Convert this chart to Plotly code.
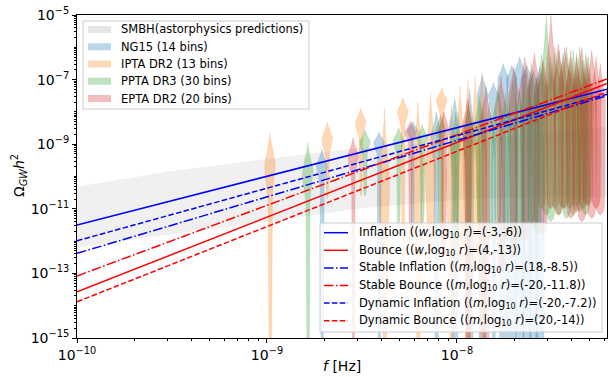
import numpy as np
import plotly.graph_objects as go

# ---------------- data ----------------
# SMBH astrophysical band (log10 Omega)
F_SMBH = [1e-10, 3e-10, 1e-9, 3e-9, 1e-8, 3e-8, 6.16e-8]
SMBH_UP = [-10.32, -9.85, -9.45, -9.12, -8.90, -8.65, -8.47]
SMBH_LO = [-12.20, -11.80, -11.40, -11.00, -10.72, -10.62, -10.65]

# PTA free-spectrum violins: frequency bins and log10 Omega extents
NG15_F = [1.945e-9 * k for k in range(1, 15)]
NG15_TOP = [-9.15, -8.62, -8.30, -8.00, -7.57, -7.30, -6.86, -7.10, -6.50, -6.55, -6.30, -6.55, -6.70, -6.60]
NG15_MODE = [-9.70, -8.95, -8.60, -8.80, -8.50, -8.80, -7.50, -7.50, -7.00, -7.00, -6.80, -7.00, -7.30, -7.30]
NG15_BOT = [-15.5, -15.5, -12.0, -15.5, -15.5, -15.5, -15.5, -15.5, -15.5, -15.5, -15.5, -15.5, -15.5, -15.5]
NG15_TAIL = [0.30, 0.30, 0.25, 0.40, 0.60, 0.60, 0.70, 0.35, 0.75, 0.80, 0.80, 0.80, 0.80, 0.80]

IPTA_F = [1.038e-9 * k for k in range(1, 14)]
IPTA_TOP = [-8.65, -8.31, -7.88, -7.90, -7.57, -7.69, -7.41, -7.26, -7.80, -7.20, -7.00, -6.90, -6.80]
IPTA_MODE = [-9.70, -8.85, -8.35, -10.50, -8.00, -10.00, -9.80, -7.65, -10.00, -9.50, -9.30, -9.60, -9.40]
IPTA_BOT = [-15.5, -10.7, -10.6, -15.5, -12.5, -15.5, -13.0, -12.5, -15.5, -13.0, -15.5, -13.0, -15.5]
IPTA_TAIL = [0.33, 0.25, 0.25, 0.40, 0.30, 0.40, 0.40, 0.30, 0.45, 0.50, 0.50, 0.50, 0.50]

PPTA_F = [1.64e-9 * k for k in range(1, 31)]
PPTA_TOP = [-8.96, -8.55, -8.50, -8.40, -8.10, -8.00, -7.80, -7.50, -7.70, -7.20,
            -7.40, -7.00, -7.30, -6.80, -6.50, -6.90, -6.20, -5.00, -6.30, -6.00,
            -6.10, -6.20, -6.00, -6.30, -6.10, -6.30, -6.00, -6.40, -6.20, -6.30]
PPTA_MODE = [-9.90, -8.95, -8.90, -8.80, -8.60, -9.00, -8.70, -8.50, -8.80, -8.30,
             -8.60, -8.20, -8.50, -8.00, -7.80, -8.20, -7.50, -7.20, -7.60, -7.20,
             -7.30, -7.50, -7.20, -7.60, -7.50, -7.70, -7.30, -7.80, -7.50, -7.70]
PPTA_BOT = [-15.5, -10.6, -11.5, -11.5, -11.8, -12.0, -12.0, -11.5, -12.0, -11.5,
            -12.0, -11.8, -12.0, -11.5, -11.5, -11.8, -11.0, -11.2, -11.4, -11.0,
            -11.2, -11.0, -11.3, -11.0, -11.2, -10.9, -11.1, -11.0, -11.2, -10.9]
PPTA_TAIL = [0.30, 0.30, 0.30, 0.35, 0.40, 0.50, 0.50, 0.55, 0.55, 0.60,
             0.60, 0.65, 0.65, 0.70, 0.70, 0.70, 0.75, 0.75, 0.75, 0.75,
             0.75, 0.75, 0.75, 0.75, 0.75, 0.75, 0.75, 0.75, 0.75, 0.75]

EPTA_F = [2.84e-9 * k for k in range(1, 21)]
EPTA_TOP = [-8.80, -8.30, -8.00, -7.60, -7.20, -6.90, -6.60, -6.30, -6.18, -6.40,
            -5.00, -5.90, -6.00, -6.10, -6.20, -6.00, -6.30, -6.10, -6.30, -6.50]
EPTA_MODE = [-9.40, -8.65, -8.60, -8.50, -8.30, -8.00, -7.60, -7.40, -7.20, -7.40,
             -7.00, -7.20, -7.00, -7.40, -7.50, -7.30, -7.60, -7.40, -7.60, -7.80]
EPTA_BOT = [-15.5, -12.0, -12.5, -15.5, -15.5, -13.0, -12.5, -12.0, -11.6, -11.8,
            -11.0, -11.2, -11.0, -11.3, -11.1, -11.4, -10.9, -11.3, -11.0, -11.2]
EPTA_TAIL = [0.25, 0.30, 0.40, 0.50, 0.60, 0.70, 0.70, 0.75, 0.75, 0.75,
             0.78, 0.78, 0.78, 0.78, 0.78, 0.78, 0.78, 0.78, 0.78, 0.78]

# model curves: end-point values (log10 Omega) at the frequencies below
F_LINE = [1e-10, 6.16e-8]
INFL = [-11.50, -7.30]
BOUNCE = [-13.57, -7.12]
ST_INFL = [-12.38, -7.50]
ST_BOUNCE = [-13.08, -6.98]
DYN_INFL = [-11.99, -7.45]
DYN_BOUNCE = [-13.88, -7.38]

FONT = "DejaVu Sans"
W, H = 609, 377
L, R, T, B = 77, 607, 15, 338   # plot-area pixel box


def px(x):
    return (x - L) / (R - L)


def py(y):
    return 1 - (y - T) / (B - T)


fig = go.Figure()

# SMBH band
fig.add_trace(go.Scatter(
    x=F_SMBH + F_SMBH[::-1],
    y=[10 ** v for v in SMBH_UP] + [10 ** v for v in SMBH_LO[::-1]],
    fill="toself", mode="lines", line=dict(width=0),
    fillcolor="rgba(128,128,128,0.12)",
    name="SMBH(astorphysics predictions)", showlegend=False, hoverinfo="skip"))


def violin(fc, top, mode, bot, tail, half=0.028, n=90):
    ys = np.linspace(bot, top, n)
    up = max(top - mode, 0.05)
    s = max(up / 2.2, 0.12)
    g = np.exp(-0.5 * ((ys - mode) / s) ** 2)
    cap = np.clip(1 - ((ys - mode) / up) ** 2, 0, 1)
    w = np.where(ys >= mode, g * np.sqrt(cap), tail + (1 - tail) * g)
    w = w * np.sqrt(np.clip((ys - bot) / 0.25, 0, 1))
    lx = np.log10(fc)
    xr = 10 ** (lx + half * w)
    xl = 10 ** (lx - half * w)
    x = np.concatenate([xr, xl[::-1]])
    y = 10 ** np.concatenate([ys, ys[::-1]])
    return x, y


datasets = [
    ("NG15 (14 bins)", (31, 119, 180), NG15_F, NG15_TOP, NG15_MODE, NG15_BOT, NG15_TAIL),
    ("IPTA DR2 (13 bins)", (255, 127, 14), IPTA_F, IPTA_TOP, IPTA_MODE, IPTA_BOT, IPTA_TAIL),
    ("PPTA DR3 (30 bins)", (44, 160, 44), PPTA_F, PPTA_TOP, PPTA_MODE, PPTA_BOT, PPTA_TAIL),
    ("EPTA DR2 (20 bins)", (214, 39, 40), EPTA_F, EPTA_TOP, EPTA_MODE, EPTA_BOT, EPTA_TAIL),
]
for name, (r, g_, b), fs, tops, modes, bots, tails in datasets:
    for i, fc in enumerate(fs):
        x, y = violin(fc, tops[i], modes[i], bots[i], tails[i])
        fig.add_trace(go.Scatter(
            x=x, y=y, fill="toself", mode="lines",
            line=dict(width=0.5, color=f"rgba({r},{g_},{b},0.3)"),
            fillcolor=f"rgba({r},{g_},{b},0.3)",
            name=name, showlegend=False, hoverinfo="skip"))

DASHDOT = "9.6px,2.4px,1.5px,2.4px"
DASHED = "5.5px,2.4px"
lines = [
    ("Inflation ((<i>w</i>,log<sub>10</sub> <i>r</i>)=(-3,-6))", INFL, "blue", "solid"),
    ("Bounce ((<i>w</i>,log<sub>10</sub> <i>r</i>)=(4,-13))", BOUNCE, "red", "solid"),
    ("Stable Inflation ((<i>m</i>,log<sub>10</sub> <i>r</i>)=(18,-8.5))", ST_INFL, "blue", DASHDOT),
    ("Stable Bounce ((<i>m</i>,log<sub>10</sub> <i>r</i>)=(-20,-11.8))", ST_BOUNCE, "red", DASHDOT),
    ("Dynamic Inflation ((<i>m</i>,log<sub>10</sub> <i>r</i>)=(-20,-7.2))", DYN_INFL, "blue", DASHED),
    ("Dynamic Bounce ((<i>m</i>,log<sub>10</sub> <i>r</i>)=(20,-14))", DYN_BOUNCE, "red", DASHED),
]
for name, vals, col, dash in lines:
    fig.add_trace(go.Scatter(
        x=F_LINE, y=[10 ** v for v in vals], mode="lines",
        line=dict(color=col, width=1.5, dash=dash),
        name=name, showlegend=False, hoverinfo="skip"))

# ---------------- legends (drawn as boxes, swatches and texts) ----------------
shapes, annos = [], []
LFONT = dict(family=FONT, size=11.5, color="black")

# upper-left legend: patches
shapes.append(dict(type="rect", xref="paper", yref="paper", layer="above",
                   x0=px(83), x1=px(309), y0=py(109), y1=py(21),
                   fillcolor="rgba(255,255,255,0.8)", line=dict(color="#cccccc", width=1)))
patch_items = [("SMBH(astorphysics predictions)", "rgba(128,128,128,0.2)")] + \
              [(d[0], f"rgba({d[1][0]},{d[1][1]},{d[1][2]},0.3)") for d in datasets]
for j, (name, col) in enumerate(patch_items):
    yc = 29.5 + j * 17.25
    shapes.append(dict(type="rect", xref="paper", yref="paper", layer="above",
                       x0=px(88), x1=px(111), y0=py(yc + 3.5), y1=py(yc - 3.5),
                       fillcolor=col, line=dict(width=0)))
    annos.append(dict(xref="paper", yref="paper", x=px(119), y=py(yc), text=name,
                      xanchor="left", yanchor="middle", showarrow=False, font=LFONT))

# lower-right legend: lines
shapes.append(dict(type="rect", xref="paper", yref="paper", layer="above",
                   x0=px(320), x1=px(602), y0=py(332), y1=py(223),
                   fillcolor="rgba(255,255,255,0.8)", line=dict(color="#cccccc", width=1)))
for j, (name, vals, col, dash) in enumerate(lines):
    yc = 232.7 + j * 17.6
    shapes.append(dict(type="line", xref="paper", yref="paper", layer="above",
                       x0=px(324), x1=px(348), y0=py(yc), y1=py(yc),
                       line=dict(color=col, width=1.5, dash=dash)))
    annos.append(dict(xref="paper", yref="paper", x=px(357), y=py(yc), text=name,
                      xanchor="left", yanchor="middle", showarrow=False, font=LFONT))

# axis titles
annos.append(dict(xref="paper", yref="paper", x=px(342), y=py(366), text="<i>f</i> [Hz]",
                  xanchor="center", yanchor="middle", showarrow=False,
                  font=dict(family=FONT, size=14, color="black")))
annos.append(dict(xref="paper", yref="paper", x=px(19), y=py(176),
                  text="\u03a9<sub><i>GW</i></sub><i>h</i><sup>2</sup>", textangle=-90,
                  xanchor="center", yanchor="middle", showarrow=False,
                  font=dict(family=FONT, size=14, color="black")))

sup = lambda e: f"10<sup>\u2212{e}</sup>"
minor_x = [m * 10.0 ** d for d in range(-11, -6) for m in range(2, 10)]
minor_y = [m * 10.0 ** d for d in range(-16, -4) for m in range(1, 10)
           if not (m == 1 and d % 2 != 0)]

fig.update_layout(
    width=W, height=H,
    margin=dict(l=L, r=W - R, t=T, b=H - B),
    paper_bgcolor="white", plot_bgcolor="white",
    font=dict(family=FONT, size=13, color="black"),
    showlegend=False,
    shapes=shapes, annotations=annos,
    xaxis=dict(type="log", range=[-10, np.log10(6.16e-8)],
               tickvals=[1e-10, 1e-9, 1e-8], ticktext=[sup(10), sup(9), sup(8)],
               ticks="outside", ticklen=4, tickcolor="black",
               minor=dict(tickvals=minor_x, ticks="outside", ticklen=2, tickcolor="black"),
               showline=True, mirror=True, linecolor="black", linewidth=1,
               showgrid=False, zeroline=False,
               tickfont=dict(family=FONT, size=14)),
    yaxis=dict(type="log", range=[-15, -5],
               tickvals=[1e-15, 1e-13, 1e-11, 1e-9, 1e-7, 1e-5],
               ticktext=[sup(15), sup(13), sup(11), sup(9), sup(7), sup(5)],
               ticks="outside", ticklen=4, tickcolor="black",
               minor=dict(tickvals=minor_y, ticks="outside", ticklen=2, tickcolor="black"),
               showline=True, mirror=True, linecolor="black", linewidth=1,
               showgrid=False, zeroline=False,
               tickfont=dict(family=FONT, size=14)),
)

fig.write_html("out.html", config={"displayModeBar": False},
               post_script="document.body.style.margin='0';document.body.style.overflow='hidden';")
